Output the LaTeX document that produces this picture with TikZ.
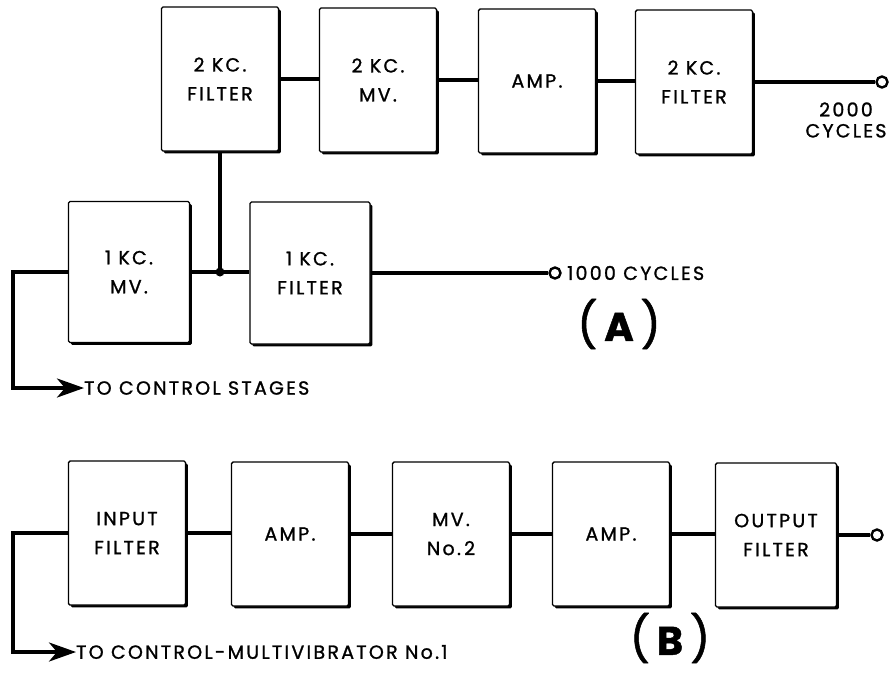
\documentclass[tikz,border=0pt]{standalone}
\usepackage{fontspec}
\setmainfont{Poppins}[LetterSpace=12, FakeBold=1.2]
\usetikzlibrary{arrows.meta,shadows}

\begin{document}
\begin{tikzpicture}[x=1pt,y=-1pt,
  blk/.style={draw, line width=1.4pt, fill=white, rounded corners=1.5pt,
    minimum width=117pt, minimum height=144pt, align=center,
    font=\fontsize{19}{29}\selectfont,
    drop shadow={shadow xshift=2.4pt, shadow yshift=-2.4pt, opacity=1, fill=black}},
  wire/.style={line width=3.6pt},
  term/.style={circle, draw, line width=2.4pt, fill=white, minimum size=11pt, inner sep=0pt},
  lbl/.style={font=\fontsize{19}{20}\selectfont, inner sep=0pt},
  tip/.style={-{Stealth[length=27pt, width=19pt, inset=8pt]}},
  tag/.style={font=\fontsize{40}{40}\bfseries\selectfont, inner sep=0pt}
]
\newcommand\parenfont{\mdseries\fontsize{45}{45}\selectfont}
\useasboundingbox (0,0) rectangle (894,673);

% ---- (A): 1 kc and 2 kc chains ----
\node[blk] (f2a) at (220,79) {2 KC.\\FILTER};
\node[blk] (mv2) at (378,80) {2 KC.\\MV.};
\node[blk] (amp) at (537,81) {AMP.};
\node[blk] (f2b) at (694,82) {2 KC.\\FILTER};

\node[blk, minimum width=121pt, minimum height=141pt] (mv1) at (129,272) {1 KC.\\MV.};
\node[blk, minimum width=120pt, minimum height=142pt] (f1) at (310,273) {1 KC.\\FILTER};

\node[term] (t2) at (882,82) {};
\node[term] (t1) at (555,273) {};
\node[lbl, anchor=west] (c1) at (567,273) {1000 CYCLES};
\node[lbl, align=center, font=\fontsize{19}{21}\selectfont] (c2) at (846,120) {2000\\CYCLES};

\coordinate (jn) at (f2a.south |- mv1.east);
\coordinate (fbA) at (13,388);
\node[lbl, anchor=west] (toA) at (84,388) {TO CONTROL STAGES};

\draw[wire] (f2a.east) -- (f2a.east -| mv2.west);
\draw[wire] (mv2.east) -- (mv2.east -| amp.west);
\draw[wire] (amp.east) -- (amp.east -| f2b.west);
\draw[wire] (f2b.east) -- (t2.west);
\draw[wire] (mv1.east) -- (mv1.east -| f1.west);
\draw[wire] (f2a.south) -- (jn);
\fill (jn) circle (4.5pt);
\draw[wire] (f1.east) -- (t1.west);
\draw[wire, tip] (mv1.west) -| (fbA) -- (toA.west);

\node[tag] (labA) at (619,324) {{\parenfont(}\,A\,{\parenfont)}};

% ---- (B): control multivibrator chain ----
\node[blk] (inf) at (127,533) {INPUT\\FILTER};
\node[blk] (ab1) at (290,534) {AMP.};
\node[blk] (mvb) at (451,534) {MV.\\No.\,2};
\node[blk] (ab2) at (611,534) {AMP.};
\node[blk, minimum width=121pt] (outf) at (776,535) {OUTPUT\\FILTER};

\node[term] (tb) at (877,535) {};
\coordinate (fbB) at (13,652);
\node[lbl, anchor=west] (toB) at (76,652) {TO CONTROL-MULTIVIBRATOR No.1};

\draw[wire] (inf.east) -- (inf.east -| ab1.west);
\draw[wire] (ab1.east) -- (ab1.east -| mvb.west);
\draw[wire] (mvb.east) -- (mvb.east -| ab2.west);
\draw[wire] (ab2.east) -- (ab2.east -| outf.west);
\draw[wire] (outf.east) -- (tb.west);
\draw[wire, tip] (inf.west) -| (fbB) -- (toB.west);

\node[tag] (labB) at (670,638) {{\parenfont(}\,B\,{\parenfont)}};
\end{tikzpicture}
\end{document}
